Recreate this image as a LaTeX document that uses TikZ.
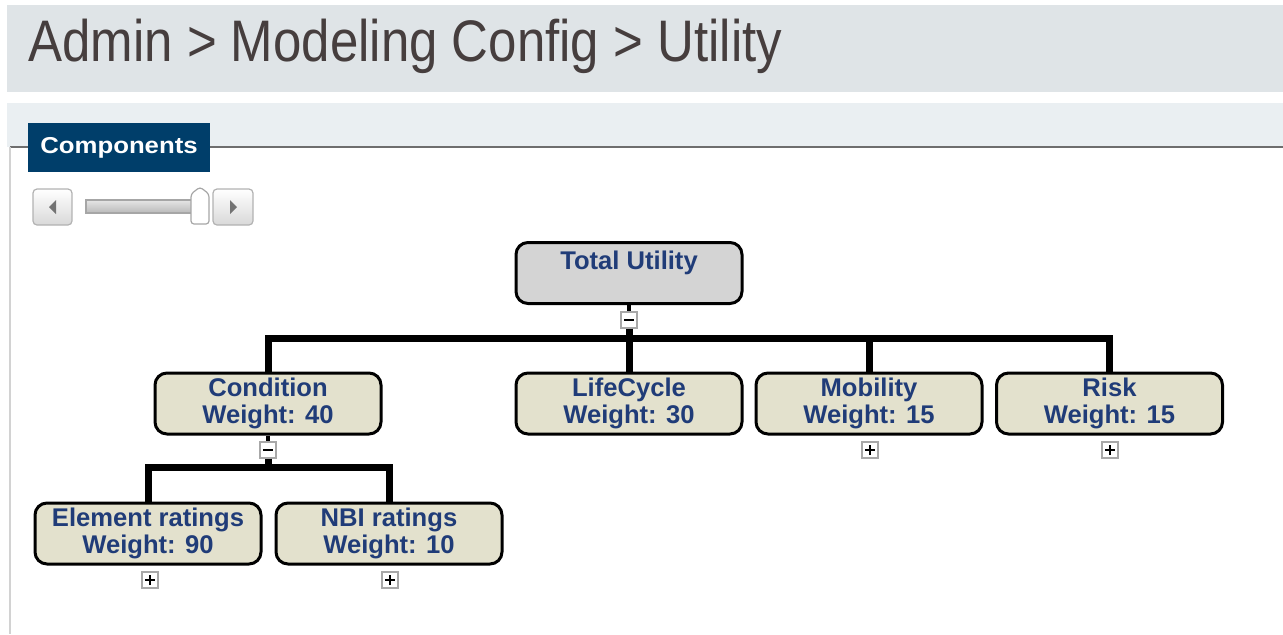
\documentclass[tikz,border=0pt]{standalone}
\usepackage{fontspec}
\setmainfont{Liberation Sans}
\definecolor{headbg}{HTML}{DFE4E7}
\definecolor{bandbg}{HTML}{EAEFF2}
\definecolor{tabblue}{HTML}{003E6A}
\definecolor{boxfill}{HTML}{E3E1CD}
\definecolor{totfill}{HTML}{D4D4D4}
\definecolor{txtblue}{HTML}{203C78}
\definecolor{titlecol}{HTML}{463E3E}
\definecolor{rulecol}{HTML}{6E6E6E}
\definecolor{btngray}{HTML}{A8A8A8}
\begin{document}
\begin{tikzpicture}[x=0.5pt,y=-0.5pt,
  compbox/.style={draw=black, line width=1.5pt, rounded corners=6pt, fill=boxfill,
    minimum width=113pt, minimum height=30.5pt, align=center, inner sep=0pt,
    text=txtblue, font=\fontsize{12.8}{13.2}\selectfont\bfseries},
  totbox/.style={compbox, fill=totfill},
  conn/.style={line width=3.5pt, line cap=butt, line join=miter},
  stub/.style={line width=2pt},
  btn/.style={draw=btngray, fill=white, line width=0.6pt, minimum size=8pt, inner sep=0pt},
  sign/.style={line width=0.9pt, black},
  sldbtn/.style={draw=gray!60, rounded corners=2pt, top color=white, bottom color=gray!30, line width=0.6pt}
]
\useasboundingbox (0,0) rectangle (1283,634);
% header
\fill[headbg] (7,5) rectangle (1283,92);
\node[anchor=base west, inner sep=0pt, text=titlecol, font=\fontsize{29.3}{29.3}\selectfont] (title) at (28,61) {\scalebox{0.87}[1]{Admin > Modeling Config > Utility}};
\fill[bandbg] (7,103) rectangle (1283,147);
\draw[rulecol, line width=1pt] (10,147) -- (1283,147);
\draw[gray!35, line width=0.6pt] (10,147) -- (10,634);
% tab
\node[fill=tabblue, minimum width=91pt, minimum height=24.5pt, inner sep=0pt, text=white, font=\fontsize{11.5}{11.5}\selectfont\bfseries] (tab) at (119,147.5) {\scalebox{1.12}[1]{Components}};
% slider
\draw[sldbtn] (33,189) rectangle (72,225);
\fill[gray!90!black] (56,200) -- (56,214) -- (49,207) -- cycle;
\draw[sldbtn] (213,189) rectangle (253,225);
\fill[gray!90!black] (230,200) -- (230,214) -- (237,207) -- cycle;
\draw[gray!70, top color=gray!20, bottom color=gray!55, line width=0.6pt] (86,200) rectangle (197,213);
\draw[gray!70, fill=white, line width=0.6pt, rounded corners=1.5pt] (191,224) -- (191,194) -- (200,187) -- (209,194) -- (209,224) -- cycle;
% tree nodes
\node[totbox] (tu) at (629,273) {Total Utility\\\phantom{W}};
\node[compbox] (cond) at (268,403.5) {Condition\\Weight: 40};
\node[compbox] (life) at (629,403.5) {LifeCycle\\Weight: 30};
\node[compbox] (mob) at (869,403.5) {Mobility\\Weight: 15};
\node[compbox] (risk) at (1109.5,403.5) {Risk\\Weight: 15};
\node[compbox] (elem) at (148,533.5) {Element ratings\\Weight: 90};
\node[compbox] (nbi) at (389,533.5) {NBI ratings\\Weight: 10};
% buttons
\node[btn] (tub) at (629,320) {};
\node[btn] (condb) at (268,450) {};
\node[btn] (mobb) at (870,450) {};
\node[btn] (riskb) at (1110,450) {};
\node[btn] (elemb) at (150,580) {};
\node[btn] (nbib) at (390,580) {};
\foreach \b in {tub,condb,mobb,riskb,elemb,nbib}
  \draw[sign] ([xshift=-2.6pt]\b.center) -- ([xshift=2.6pt]\b.center);
\foreach \b in {mobb,riskb,elemb,nbib}
  \draw[sign] ([yshift=-2.6pt]\b.center) -- ([yshift=2.6pt]\b.center);
% connectors
\coordinate (j0) at (629,338);
\coordinate (j1) at (268,467);
\draw[stub] (tu.south) -- (tub.north);
\draw[stub] (cond.south) -- (condb.north);
\draw[conn] (tub.south) -- (j0);
\draw[conn] (j0) -| (cond.north);
\draw[conn] (j0) -- (life.north);
\draw[conn] (j0) -| (mob.north);
\draw[conn] (j0) -| (risk.north);
\draw[conn] (condb.south) -- (j1);
\draw[conn] (j1) -| (elem.north);
\draw[conn] (j1) -| (nbi.north);
\end{tikzpicture}
\end{document}
